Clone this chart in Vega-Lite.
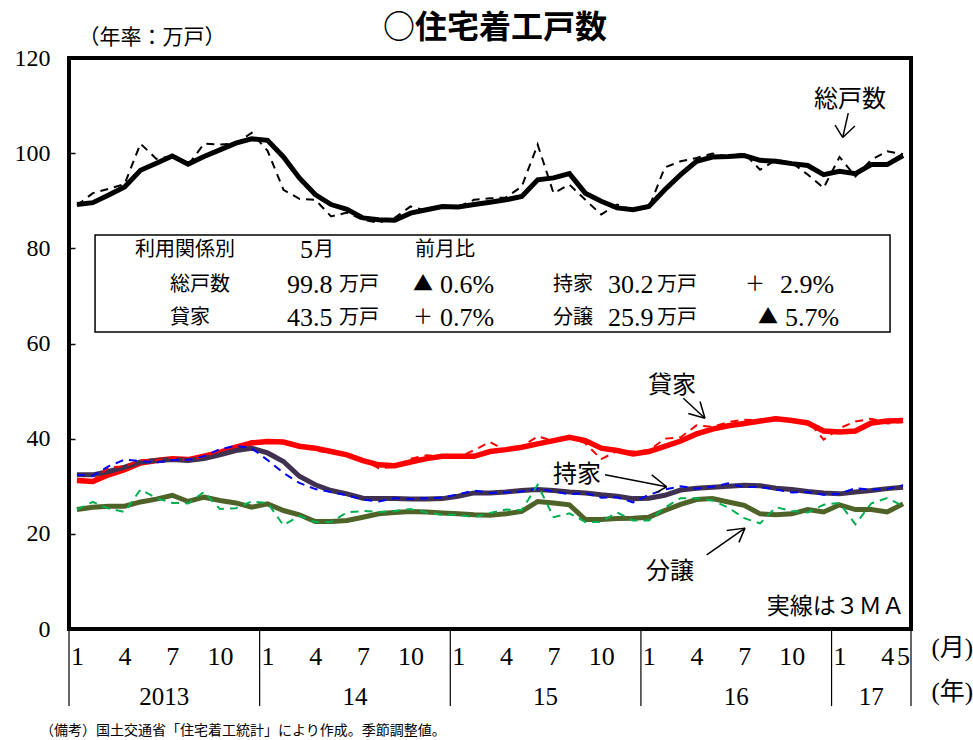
{
  "$schema": "https://vega.github.io/schema/vega-lite/v6.json",
  "width": 842,
  "height": 571,
  "autosize": "none",
  "padding": {"left": 69, "top": 58, "right": 62, "bottom": 111},
  "background": "white",
  "config": {
    "view": {"stroke": "#000000", "strokeWidth": 4},
    "font": "Liberation Serif, Noto Sans CJK JP",
    "text": {"font": "Liberation Serif, Noto Sans CJK JP", "color": "#000000"}
  },
  "datasets": {
    "m": [
      {"t":0,"tot3":89.2,"tot":89.0,"rent3":31.2,"rent":31.5,"own3":32.4,"own":32.4,"sale3":25.1,"sale":25.1},
      {"t":1,"tot3":89.6,"tot":91.6,"rent3":31.0,"rent":31.2,"own3":32.4,"own":32.2,"sale3":25.6,"sale":26.7},
      {"t":2,"tot3":91.2,"tot":92.5,"rent3":32.4,"rent":34.0,"own3":33.1,"own":34.2,"sale3":25.8,"sale":25.3},
      {"t":3,"tot3":92.9,"tot":93.5,"rent3":33.5,"rent":34.2,"own3":34.0,"own":35.6,"sale3":25.8,"sale":24.6},
      {"t":4,"tot3":96.4,"tot":102.0,"rent3":34.9,"rent":35.5,"own3":35.1,"own":35.3,"sale3":26.7,"sale":29.3},
      {"t":5,"tot3":97.9,"tot":98.8,"rent3":35.4,"rent":35.5,"own3":35.4,"own":35.0,"sale3":27.3,"sale":27.5},
      {"t":6,"tot3":99.4,"tot":99.4,"rent3":35.8,"rent":36.0,"own3":35.6,"own":35.5,"sale3":28.1,"sale":26.5},
      {"t":7,"tot3":97.7,"tot":97.5,"rent3":35.6,"rent":35.4,"own3":35.4,"own":35.5,"sale3":26.8,"sale":26.4},
      {"t":8,"tot3":99.3,"tot":102.0,"rent3":36.3,"rent":36.2,"own3":35.8,"own":36.3,"sale3":27.7,"sale":28.8},
      {"t":9,"tot3":100.7,"tot":101.8,"rent3":37.1,"rent":37.5,"own3":36.6,"own":37.8,"sale3":27.0,"sale":25.2},
      {"t":10,"tot3":102.1,"tot":102.0,"rent3":38.2,"rent":38.3,"own3":37.5,"own":38.5,"sale3":26.5,"sale":25.4},
      {"t":11,"tot3":103.0,"tot":104.3,"rent3":39.1,"rent":39.5,"own3":38.0,"own":38.0,"sale3":25.6,"sale":26.8},
      {"t":12,"tot3":102.7,"tot":100.5,"rent3":39.4,"rent":39.5,"own3":37.0,"own":35.5,"sale3":26.3,"sale":26.5},
      {"t":13,"tot3":99.2,"tot":92.3,"rent3":39.3,"rent":39.5,"own3":35.2,"own":32.8,"sale3":24.9,"sale":21.8},
      {"t":14,"tot3":94.8,"tot":90.4,"rent3":38.4,"rent":38.5,"own3":32.1,"own":30.7,"sale3":24.0,"sale":23.8},
      {"t":15,"tot3":91.3,"tot":90.2,"rent3":38.0,"rent":37.5,"own3":30.3,"own":29.4,"sale3":22.6,"sale":22.5},
      {"t":16,"tot3":89.2,"tot":86.7,"rent3":37.3,"rent":37.0,"own3":29.1,"own":28.8,"sale3":22.6,"sale":22.5},
      {"t":17,"tot3":88.2,"tot":87.5,"rent3":36.6,"rent":36.5,"own3":28.4,"own":28.1,"sale3":22.8,"sale":24.5},
      {"t":18,"tot3":86.4,"tot":86.0,"rent3":35.4,"rent":35.5,"own3":27.5,"own":27.2,"sale3":23.5,"sale":24.8},
      {"t":19,"tot3":86.0,"tot":85.4,"rent3":34.5,"rent":33.8,"own3":27.4,"own":26.8,"sale3":24.2,"sale":24.6},
      {"t":20,"tot3":85.9,"tot":86.4,"rent3":34.3,"rent":34.0,"own3":27.4,"own":27.5,"sale3":24.5,"sale":24.8},
      {"t":21,"tot3":87.4,"tot":88.8,"rent3":35.1,"rent":35.8,"own3":27.3,"own":27.3,"sale3":24.7,"sale":25.2},
      {"t":22,"tot3":88.1,"tot":87.9,"rent3":35.8,"rent":36.5,"own3":27.3,"own":27.5,"sale3":24.6,"sale":24.5},
      {"t":23,"tot3":88.8,"tot":88.8,"rent3":36.3,"rent":36.2,"own3":27.4,"own":27.6,"sale3":24.4,"sale":24.0},
      {"t":24,"tot3":88.7,"tot":88.7,"rent3":36.3,"rent":36.0,"own3":27.9,"own":28.3,"sale3":24.2,"sale":24.0},
      {"t":25,"tot3":89.2,"tot":90.2,"rent3":36.3,"rent":37.6,"own3":28.6,"own":29.1,"sale3":24.0,"sale":23.5},
      {"t":26,"tot3":89.7,"tot":90.5,"rent3":37.3,"rent":39.3,"own3":28.6,"own":28.6,"sale3":23.9,"sale":24.4},
      {"t":27,"tot3":90.2,"tot":90.7,"rent3":37.7,"rent":37.5,"own3":28.8,"own":28.7,"sale3":24.2,"sale":25.1},
      {"t":28,"tot3":90.9,"tot":93.0,"rent3":38.2,"rent":38.3,"own3":29.1,"own":28.9,"sale3":24.7,"sale":25.0},
      {"t":29,"tot3":94.4,"tot":101.8,"rent3":38.9,"rent":40.5,"own3":29.3,"own":29.5,"sale3":26.8,"sale":30.3},
      {"t":30,"tot3":94.8,"tot":91.6,"rent3":39.6,"rent":39.5,"own3":29.1,"own":28.9,"sale3":26.5,"sale":23.5},
      {"t":31,"tot3":95.7,"tot":93.4,"rent3":40.3,"rent":40.6,"own3":28.8,"own":28.3,"sale3":26.1,"sale":24.3},
      {"t":32,"tot3":91.6,"tot":90.2,"rent3":39.6,"rent":39.0,"own3":28.6,"own":28.6,"sale3":23.0,"sale":22.5},
      {"t":33,"tot3":89.9,"tot":87.1,"rent3":38.0,"rent":35.7,"own3":28.2,"own":27.6,"sale3":23.0,"sale":22.5},
      {"t":34,"tot3":88.5,"tot":89.2,"rent3":37.5,"rent":37.4,"own3":27.9,"own":27.7,"sale3":23.2,"sale":24.5},
      {"t":35,"tot3":88.1,"tot":88.0,"rent3":36.8,"rent":37.3,"own3":27.4,"own":26.6,"sale3":23.3,"sale":22.8},
      {"t":36,"tot3":88.8,"tot":88.5,"rent3":37.3,"rent":37.5,"own3":27.5,"own":28.2,"sale3":23.5,"sale":22.8},
      {"t":37,"tot3":92.3,"tot":97.0,"rent3":38.4,"rent":40.0,"own3":28.1,"own":29.3,"sale3":24.9,"sale":25.5},
      {"t":38,"tot3":95.5,"tot":98.3,"rent3":39.5,"rent":40.3,"own3":29.2,"own":30.0,"sale3":26.2,"sale":27.5},
      {"t":39,"tot3":98.3,"tot":99.0,"rent3":41.0,"rent":42.8,"own3":29.6,"own":29.5,"sale3":27.2,"sale":27.5},
      {"t":40,"tot3":99.2,"tot":99.9,"rent3":42.0,"rent":42.5,"own3":29.8,"own":29.9,"sale3":27.4,"sale":27.0},
      {"t":41,"tot3":99.3,"tot":99.3,"rent3":42.7,"rent":43.5,"own3":30.0,"own":30.6,"sale3":26.7,"sale":25.5},
      {"t":42,"tot3":99.5,"tot":100.0,"rent3":43.2,"rent":44.0,"own3":30.2,"own":29.8,"sale3":26.0,"sale":23.3},
      {"t":43,"tot3":98.5,"tot":96.5,"rent3":43.7,"rent":43.8,"own3":30.1,"own":29.9,"sale3":24.2,"sale":22.2},
      {"t":44,"tot3":98.3,"tot":98.6,"rent3":44.2,"rent":44.5,"own3":29.6,"own":29.3,"sale3":24.0,"sale":25.6},
      {"t":45,"tot3":97.8,"tot":98.0,"rent3":43.8,"rent":43.5,"own3":29.3,"own":28.7,"sale3":24.2,"sale":24.8},
      {"t":46,"tot3":97.4,"tot":95.5,"rent3":43.3,"rent":43.8,"own3":28.9,"own":28.8,"sale3":25.1,"sale":24.5},
      {"t":47,"tot3":95.5,"tot":92.7,"rent3":41.6,"rent":39.8,"own3":28.6,"own":28.2,"sale3":24.6,"sale":26.1},
      {"t":48,"tot3":96.2,"tot":99.2,"rent3":41.4,"rent":42.2,"own3":28.4,"own":28.4,"sale3":26.1,"sale":26.5},
      {"t":49,"tot3":95.7,"tot":95.1,"rent3":41.6,"rent":43.6,"own3":28.8,"own":29.6,"sale3":25.1,"sale":22.0},
      {"t":50,"tot3":97.6,"tot":98.6,"rent3":43.3,"rent":44.2,"own3":29.1,"own":29.3,"sale3":25.1,"sale":26.4},
      {"t":51,"tot3":97.6,"tot":100.4,"rent3":43.7,"rent":43.2,"own3":29.5,"own":29.4,"sale3":24.6,"sale":27.5},
      {"t":52,"tot3":99.5,"tot":99.8,"rent3":43.8,"rent":43.5,"own3":29.8,"own":30.2,"sale3":26.3,"sale":25.9}
    ]
  },
  "encoding": {
    "x": {
      "field": "t", "type": "quantitative", "title": null,
      "scale": {"domain": [-0.5, 52.5], "nice": false, "zero": false},
      "axis": {
        "values": [0,3,6,9,12,15,18,21,24,27,30,33,36,39,42,45,48,51,52],
        "labelExpr": "datum.value % 12 + 1",
        "grid": false, "domain": false, "ticks": false,
        "labelPadding": 14, "labelFontSize": 26, "labelColor": "#000000",
        "labelFont": "Liberation Serif", "labelOverlap": false, "labelFlush": false, "labelBound": false
      }
    },
    "y": {
      "field": "v", "type": "quantitative", "title": null,
      "scale": {"domain": [0, 120], "nice": false, "zero": false},
      "axis": {
        "values": [0,20,40,60,80,100,120],
        "grid": false, "domain": false, "ticks": true, "tickSize": -6, "tickColor": "#000000", "tickWidth": 1.5,
        "labelPadding": 25, "labelFontSize": 24, "labelColor": "#000000", "labelFont": "Liberation Serif"
      }
    }
  },
  "layer": [
    {
      "data": {"values": [{"t1": 1.14, "t2": 51.18, "v1": 82.8, "v2": 62.4}]},
      "mark": {"type": "rect", "fill": "#ffffff", "stroke": "#000000", "strokeWidth": 1.5},
      "encoding": {
        "x": {"field": "t1", "type": "quantitative", "title": null},
        "x2": {"field": "t2"},
        "y": {"field": "v1", "type": "quantitative", "title": null},
        "y2": {"field": "v2"}
      }
    },
    {
      "data": {"values": [
        {"t1": -0.5, "v1": 0, "v2": -16.2},
        {"t1": 11.5, "v1": 0, "v2": -16.2},
        {"t1": 23.5, "v1": 0, "v2": -16.2},
        {"t1": 35.5, "v1": 0, "v2": -16.2},
        {"t1": 47.5, "v1": 0, "v2": -16.2},
        {"t1": 52.5, "v1": 0, "v2": -16.2}
      ]},
      "mark": {"type": "rule", "color": "#000000", "strokeWidth": 1.2},
      "encoding": {
        "x": {"field": "t1", "type": "quantitative", "title": null},
        "y": {"field": "v1", "type": "quantitative", "title": null},
        "y2": {"field": "v2"}
      }
    },
    {"data": {"name": "m"}, "mark": {"type": "line", "color": "#000000", "strokeWidth": 5}, "encoding": {"y": {"field": "tot3", "type": "quantitative", "title": null}}},
    {"data": {"name": "m"}, "mark": {"type": "line", "color": "#ff0000", "strokeWidth": 5.5}, "encoding": {"y": {"field": "rent3", "type": "quantitative", "title": null}}},
    {"data": {"name": "m"}, "mark": {"type": "line", "color": "#403151", "strokeWidth": 5}, "encoding": {"y": {"field": "own3", "type": "quantitative", "title": null}}},
    {"data": {"name": "m"}, "mark": {"type": "line", "color": "#4f6228", "strokeWidth": 5}, "encoding": {"y": {"field": "sale3", "type": "quantitative", "title": null}}},
    {"data": {"name": "m"}, "mark": {"type": "line", "color": "#000000", "strokeWidth": 2, "strokeDash": [8, 6]}, "encoding": {"y": {"field": "tot", "type": "quantitative", "title": null}}},
    {"data": {"name": "m"}, "mark": {"type": "line", "color": "#ff0000", "strokeWidth": 2, "strokeDash": [8, 6]}, "encoding": {"y": {"field": "rent", "type": "quantitative", "title": null}}},
    {"data": {"name": "m"}, "mark": {"type": "line", "color": "#0000ff", "strokeWidth": 2, "strokeDash": [8, 6]}, "encoding": {"y": {"field": "own", "type": "quantitative", "title": null}}},
    {"data": {"name": "m"}, "mark": {"type": "line", "color": "#00b050", "strokeWidth": 2, "strokeDash": [8, 6]}, "encoding": {"y": {"field": "sale", "type": "quantitative", "title": null}}},
    {
      "data": {"values": [
        {"t1": 48.55, "v1": 108.4, "t2": 48.2, "v2": 103.3},
        {"t1": 47.72, "v1": 105.9, "t2": 48.2, "v2": 103.3},
        {"t1": 48.97, "v1": 105.7, "t2": 48.2, "v2": 103.3},
        {"t1": 38.17, "v1": 48.5, "t2": 39.53, "v2": 44.3},
        {"t1": 39.22, "v1": 47.8, "t2": 39.53, "v2": 44.3},
        {"t1": 38.48, "v1": 45.3, "t2": 39.53, "v2": 44.3},
        {"t1": 33.24, "v1": 32.4, "t2": 37.12, "v2": 29.9},
        {"t1": 36.18, "v1": 32.4, "t2": 37.12, "v2": 29.9},
        {"t1": 36.49, "v1": 28.7, "t2": 37.12, "v2": 29.9},
        {"t1": 39.64, "v1": 15.6, "t2": 42.05, "v2": 21.2},
        {"t1": 40.9, "v1": 20.7, "t2": 42.05, "v2": 21.2},
        {"t1": 41.67, "v1": 18.2, "t2": 42.05, "v2": 21.2}
      ]},
      "mark": {"type": "rule", "color": "#000000", "strokeWidth": 1.5},
      "encoding": {
        "x": {"field": "t1", "type": "quantitative", "title": null},
        "x2": {"field": "t2"},
        "y": {"field": "v1", "type": "quantitative", "title": null},
        "y2": {"field": "v2"}
      }
    },
    {
      "data": {"values": [
        {"t": 3.65, "v": 79.7, "label": "利用関係別"},
        {"t": 14.92, "v": 79.7, "label": "月"},
        {"t": 21.28, "v": 79.7, "label": "前月比"},
        {"t": 5.86, "v": 72.3, "label": "総戸数"},
        {"t": 16.5, "v": 72.3, "label": "万戸"},
        {"t": 21.15, "v": 72.3, "label": "▲"},
        {"t": 29.97, "v": 72.3, "label": "持家"},
        {"t": 36.51, "v": 72.3, "label": "万戸"},
        {"t": 42.05, "v": 72.3, "label": "＋"},
        {"t": 5.86, "v": 65.4, "label": "貸家"},
        {"t": 16.5, "v": 65.4, "label": "万戸"},
        {"t": 21.15, "v": 65.4, "label": "＋"},
        {"t": 29.97, "v": 65.4, "label": "分譲"},
        {"t": 36.51, "v": 65.4, "label": "万戸"},
        {"t": 42.87, "v": 65.4, "label": "▲"}
      ]},
      "mark": {"type": "text", "align": "left", "baseline": "middle", "fontSize": 20, "font": "Noto Sans CJK JP"},
      "encoding": {"text": {"field": "label"}}
    },
    {
      "data": {"values": [
        {"t": 14.04, "v": 79.7, "label": "5"},
        {"t": 13.22, "v": 72.3, "label": "99.8"},
        {"t": 22.85, "v": 72.3, "label": "0.6%"},
        {"t": 33.43, "v": 72.3, "label": "30.2"},
        {"t": 44.25, "v": 72.3, "label": "2.9%"},
        {"t": 13.22, "v": 65.4, "label": "43.5"},
        {"t": 22.85, "v": 65.4, "label": "0.7%"},
        {"t": 33.43, "v": 65.4, "label": "25.9"},
        {"t": 44.57, "v": 65.4, "label": "5.7%"}
      ]},
      "mark": {"type": "text", "align": "left", "baseline": "middle", "fontSize": 26, "font": "Liberation Serif"},
      "encoding": {"text": {"field": "label"}}
    },
    {
      "data": {"values": [
        {"t": 48.66, "v": 111.2, "label": "総戸数"},
        {"t": 37.46, "v": 51.1, "label": "貸家"},
        {"t": 31.48, "v": 32.4, "label": "持家"},
        {"t": 37.33, "v": 12.0, "label": "分譲"}
      ]},
      "mark": {"type": "text", "align": "center", "baseline": "middle", "fontSize": 24},
      "encoding": {"text": {"field": "label"}}
    },
    {
      "data": {"values": [{"t": 52.1, "v": 4.7, "label": "実線は３ＭＡ"}]},
      "mark": {"type": "text", "align": "right", "baseline": "middle", "fontSize": 23},
      "encoding": {"text": {"field": "label"}}
    },
    {
      "data": {"values": [{"t": 0.1, "v": 124.2, "label": "（年率：万戸）"}]},
      "mark": {"type": "text", "align": "left", "baseline": "middle", "fontSize": 21},
      "encoding": {"text": {"field": "label"}}
    },
    {
      "data": {"values": [{"t": 26.31, "v": 126.3, "label": "○住宅着工戸数"}]},
      "mark": {"type": "text", "align": "center", "baseline": "middle", "fontSize": 32, "fontWeight": "bold", "font": "Noto Sans CJK JP"},
      "encoding": {"text": {"field": "label"}}
    },
    {
      "data": {"values": [
        {"t": 5.5, "v": -14.3, "label": "2013"},
        {"t": 17.5, "v": -14.3, "label": "14"},
        {"t": 29.5, "v": -14.3, "label": "15"},
        {"t": 41.5, "v": -14.3, "label": "16"},
        {"t": 50.0, "v": -14.3, "label": "17"},
        {"t": 55.1, "v": -4.0, "label": "(月)"},
        {"t": 55.1, "v": -13.2, "label": "(年)"}
      ]},
      "mark": {"type": "text", "align": "center", "baseline": "middle", "fontSize": 25},
      "encoding": {"text": {"field": "label"}}
    },
    {
      "data": {"values": [{"t": -2.33, "v": -21.4, "label": "（備考）国土交通省「住宅着工統計」により作成。季節調整値。"}]},
      "mark": {"type": "text", "align": "left", "baseline": "middle", "fontSize": 14, "font": "Noto Sans CJK JP"},
      "encoding": {"text": {"field": "label"}}
    }
  ]
}
